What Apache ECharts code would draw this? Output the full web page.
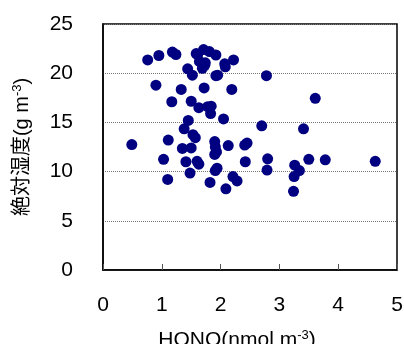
<!DOCTYPE html>
<html><head><meta charset="utf-8">
<script src="https://cdn.jsdelivr.net/npm/echarts@6/dist/echarts.min.js"></script>
<style>html,body{margin:0;padding:0;background:#fff}#c{width:404px;height:344px}</style>
</head><body><div id="c"></div>
<script>
var hono = [0.49,0.76,0.95,1.18,1.24,0.90,1.33,1.17,1.44,1.52,1.585,1.71,1.81,1.92,1.64,1.74,1.69,1.92,1.95,2.07,2.08,2.22,2.78,1.72,2.19,1.50,1.63,1.78,1.84,1.83,2.05,1.45,1.38,1.53,1.57,1.11,1.90,1.91,1.90,1.93,2.13,2.41,2.45,1.35,1.50,1.03,1.41,1.60,1.63,1.10,1.48,1.91,1.94,1.82,2.21,2.28,2.09,2.42,2.70,3.41,3.61,2.80,2.79,3.26,3.34,3.25,3.24,3.50,3.78,4.63,1.61,1.73];
var humidity = [12.75,21.35,21.8,22.15,21.9,18.78,18.35,17.1,20.45,19.8,22.0,22.4,22.2,21.85,21.2,21.05,20.5,19.75,19.8,20.95,20.65,21.35,19.75,18.5,18.35,17.15,16.5,16.6,16.65,15.9,15.35,15.2,14.35,13.75,13.45,13.2,13.05,12.5,11.75,12.0,12.65,12.7,12.9,12.35,12.4,11.25,11.0,11.05,10.75,9.2,9.85,10.1,10.35,8.9,9.5,9.05,8.25,11.0,14.65,14.35,17.45,11.3,10.15,10.65,10.1,9.5,8.0,11.25,11.2,11.05,21.9,20.8];
var xTicks = [0,1,2,3,4,5];
var yTicks = [0,5,10,15,20,25];

var pts = hono.map(function(v,i){return [v, humidity[i]];});
var font = '"Liberation Sans", Arial, "Noto Sans CJK JP", sans-serif';
var chart = echarts.init(document.getElementById('c'), null, {renderer:'canvas'});
chart.setOption({
  animation:false,
  grid:{left:103,right:7,top:24,bottom:74,outerBoundsMode:'none',containLabel:false,show:true,borderColor:'#000',borderWidth:1.5,backgroundColor:'transparent'},
  xAxis:{
    type:'value',min:xTicks[0],max:xTicks[xTicks.length-1],interval:1,
    axisLine:{show:true,lineStyle:{color:'#000',width:1.5}},
    axisTick:{show:true,inside:true,length:6,lineStyle:{color:'#555',width:1}},
    splitLine:{show:false},
    axisLabel:{color:'#000',fontSize:21,fontFamily:font,margin:25},
    name:'{n|HONO(nmol m}{s|-3}{n|)}',nameLocation:'middle',nameGap:59,
    nameTextStyle:{padding:[0,26,0,0],rich:{n:{fontSize:21,fontFamily:font,color:'#000'},s:{fontSize:13,fontFamily:font,color:'#000',verticalAlign:'top',padding:[0,0,9,0]}}}
  },
  yAxis:{
    type:'value',min:yTicks[0],max:yTicks[yTicks.length-1],interval:5,
    axisLine:{show:true,lineStyle:{color:'#000',width:1.5}},
    axisTick:{show:false},
    splitLine:{show:true,lineStyle:{color:'#777',type:'dotted',width:1}},
    axisLabel:{color:'#000',fontSize:21,fontFamily:font,margin:30},
    name:'{n|絶対湿度(g m}{s|-3}{n|)}',nameLocation:'middle',nameGap:70,nameRotate:90,
    nameTextStyle:{rich:{n:{fontSize:20,fontFamily:font,color:'#000'},s:{fontSize:13,fontFamily:font,color:'#000',verticalAlign:'top',padding:[0,0,9,0]}}}
  },
  series:[{type:'scatter',data:pts,symbol:'circle',symbolSize:11,itemStyle:{color:'#000080',opacity:1}}]
});
</script></body></html>
